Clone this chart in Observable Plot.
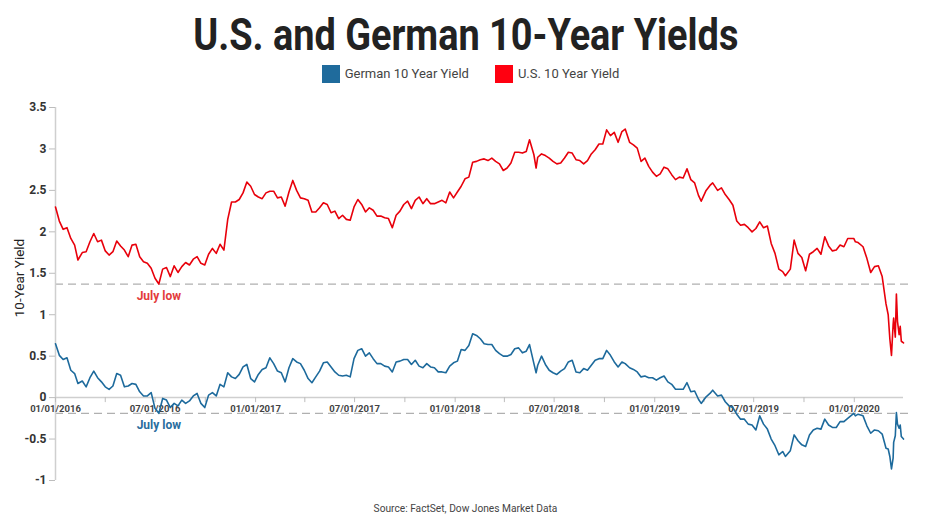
<!DOCTYPE html>
<html><head><meta charset="utf-8">
<script src="https://cdn.jsdelivr.net/npm/d3@7"></script>
<script src="https://cdn.jsdelivr.net/npm/@observablehq/plot@0.6"></script>
<style>
body{margin:0;background:#fff;font-family:Roboto, sans-serif;}
#wrap{position:relative;width:931px;height:523px;overflow:hidden;background:#fff;}
#title{position:absolute;left:0;top:12px;width:931px;text-align:center;font-size:45px;line-height:45px;font-weight:700;color:#222;white-space:nowrap;}
#title span{display:inline-block;transform-origin:center;}
#legend{position:absolute;top:65px;left:5px;width:931px;display:flex;justify-content:center;gap:26px;font-size:13px;color:#444;line-height:18px;}
.item{display:flex;align-items:center;}
.sw{width:18px;height:18px;margin-right:5px;}
#chart{position:absolute;top:95px;left:0;}
#source{position:absolute;top:503px;left:0;width:931px;text-align:center;font-size:10.2px;color:#444;}
</style></head>
<body>
<div id="wrap">
  <div id="title"><span id="titleText">U.S. and German 10-Year Yields</span></div>
  <div id="legend"></div>
  <div id="chart"></div>
  <div id="source">Source: FactSet, Dow Jones Market Data</div>
</div>
<script>
const seriesNames = ["German 10 Year Yield", "U.S. 10 Year Yield"];
const seriesColors = ["#1d6a9c", "#e8000b"];
const legendColors = ["#1f6b9c", "#ff0010"];

const dates = [
"2016-01-01","2016-01-08","2016-01-15","2016-01-22","2016-01-29","2016-02-05","2016-02-11","2016-02-19","2016-02-26","2016-03-04","2016-03-11","2016-03-18","2016-03-25","2016-04-01","2016-04-08","2016-04-15","2016-04-22","2016-04-29","2016-05-06","2016-05-13","2016-05-20","2016-05-27","2016-06-03","2016-06-10","2016-06-17","2016-06-24","2016-07-01","2016-07-08","2016-07-15","2016-07-22","2016-07-29","2016-08-05","2016-08-12","2016-08-19","2016-08-26","2016-09-02","2016-09-09","2016-09-16","2016-09-23","2016-09-30","2016-10-07","2016-10-14","2016-10-21","2016-10-28","2016-11-04","2016-11-11","2016-11-18","2016-11-25","2016-12-02","2016-12-09","2016-12-16","2016-12-23","2016-12-30",
"2017-01-06","2017-01-13","2017-01-20","2017-01-27","2017-02-03","2017-02-10","2017-02-17","2017-02-24","2017-03-03","2017-03-10","2017-03-17","2017-03-24","2017-03-31","2017-04-07","2017-04-14","2017-04-21","2017-04-28","2017-05-05","2017-05-12","2017-05-19","2017-05-26","2017-06-02","2017-06-09","2017-06-16","2017-06-23","2017-06-30","2017-07-07","2017-07-14","2017-07-21","2017-07-28","2017-08-04","2017-08-11","2017-08-18","2017-08-25","2017-09-01","2017-09-08","2017-09-15","2017-09-22","2017-09-29","2017-10-06","2017-10-13","2017-10-20","2017-10-27","2017-11-03","2017-11-10","2017-11-17","2017-11-24","2017-12-01","2017-12-08","2017-12-15","2017-12-22","2017-12-29",
"2018-01-05","2018-01-12","2018-01-19","2018-01-26","2018-02-02","2018-02-09","2018-02-16","2018-02-23","2018-03-02","2018-03-09","2018-03-16","2018-03-23","2018-03-30","2018-04-06","2018-04-13","2018-04-20","2018-04-27","2018-05-04","2018-05-11","2018-05-17","2018-05-25","2018-05-29","2018-06-01","2018-06-08","2018-06-15","2018-06-22","2018-06-29","2018-07-06","2018-07-13","2018-07-20","2018-07-27","2018-08-03","2018-08-10","2018-08-17","2018-08-24","2018-08-31","2018-09-07","2018-09-14","2018-09-21","2018-09-28","2018-10-05","2018-10-12","2018-10-19","2018-10-26","2018-11-02","2018-11-08","2018-11-16","2018-11-23","2018-11-30","2018-12-07","2018-12-14","2018-12-21","2018-12-28",
"2019-01-04","2019-01-11","2019-01-18","2019-01-25","2019-02-01","2019-02-08","2019-02-15","2019-02-22","2019-03-01","2019-03-08","2019-03-15","2019-03-22","2019-03-27","2019-04-05","2019-04-12","2019-04-17","2019-04-26","2019-05-03","2019-05-10","2019-05-17","2019-05-24","2019-05-31","2019-06-07","2019-06-14","2019-06-21","2019-06-28","2019-07-05","2019-07-12","2019-07-19","2019-07-26","2019-08-02","2019-08-09","2019-08-16","2019-08-23","2019-08-28","2019-09-06","2019-09-13","2019-09-20","2019-09-27","2019-10-04","2019-10-11","2019-10-18","2019-10-25","2019-11-01","2019-11-08","2019-11-15","2019-11-22","2019-11-29","2019-12-06","2019-12-13","2019-12-20","2019-12-31",
"2020-01-03","2020-01-08","2020-01-17","2020-01-24","2020-01-31","2020-02-07","2020-02-14","2020-02-21","2020-02-28","2020-03-03","2020-03-06","2020-03-09","2020-03-12","2020-03-13","2020-03-16","2020-03-18","2020-03-20","2020-03-23","2020-03-25","2020-03-27","2020-03-31"
];

const usYield = [
2.30,2.13,2.03,2.05,1.92,1.84,1.66,1.75,1.76,1.88,1.98,1.88,1.90,1.77,1.72,1.76,1.89,1.83,1.78,1.70,1.84,1.85,1.70,1.64,1.62,1.56,1.44,1.37,1.55,1.57,1.46,1.59,1.51,1.58,1.63,1.60,1.67,1.70,1.62,1.60,1.73,1.80,1.74,1.85,1.78,2.15,2.36,2.36,2.39,2.47,2.60,2.55,2.45,
2.42,2.40,2.47,2.49,2.49,2.41,2.42,2.31,2.48,2.62,2.50,2.41,2.40,2.38,2.24,2.24,2.29,2.35,2.33,2.23,2.25,2.16,2.20,2.15,2.14,2.30,2.39,2.33,2.24,2.29,2.26,2.19,2.19,2.17,2.16,2.05,2.20,2.25,2.33,2.37,2.28,2.38,2.42,2.34,2.40,2.34,2.34,2.36,2.38,2.35,2.48,2.41,
2.48,2.55,2.64,2.66,2.84,2.85,2.87,2.88,2.86,2.89,2.85,2.82,2.74,2.77,2.83,2.96,2.96,2.95,2.97,3.11,2.93,2.77,2.90,2.94,2.92,2.89,2.85,2.82,2.83,2.89,2.96,2.95,2.87,2.86,2.82,2.86,2.94,2.99,3.06,3.06,3.23,3.16,3.20,3.08,3.21,3.24,3.08,3.05,3.01,2.85,2.89,2.79,2.72,
2.67,2.70,2.78,2.76,2.69,2.63,2.66,2.65,2.76,2.63,2.59,2.44,2.37,2.50,2.56,2.59,2.50,2.53,2.45,2.39,2.32,2.13,2.08,2.09,2.05,2.00,2.04,2.12,2.05,2.07,1.86,1.74,1.55,1.52,1.47,1.55,1.90,1.74,1.69,1.53,1.73,1.76,1.80,1.73,1.94,1.83,1.77,1.78,1.84,1.82,1.92,1.92,
1.88,1.87,1.82,1.68,1.51,1.58,1.59,1.46,1.13,1.00,0.71,0.51,0.88,0.96,0.73,1.25,0.92,0.76,0.86,0.68,0.66
];

const deYield = [
0.65,0.51,0.46,0.48,0.33,0.29,0.17,0.20,0.13,0.24,0.32,0.24,0.19,0.13,0.10,0.14,0.29,0.27,0.13,0.14,0.17,0.16,0.07,0.02,0.02,0.06,-0.13,-0.19,-0.01,-0.03,-0.12,-0.07,-0.10,-0.03,-0.07,-0.04,0.02,0.05,-0.07,-0.12,0.03,0.06,0.02,0.16,0.13,0.30,0.25,0.23,0.28,0.37,0.40,0.23,0.19,
0.28,0.34,0.36,0.48,0.41,0.32,0.30,0.19,0.36,0.47,0.43,0.41,0.33,0.23,0.18,0.25,0.32,0.42,0.43,0.37,0.31,0.27,0.26,0.27,0.25,0.47,0.57,0.59,0.50,0.54,0.47,0.41,0.41,0.38,0.37,0.31,0.43,0.44,0.46,0.46,0.40,0.45,0.38,0.36,0.41,0.37,0.36,0.31,0.31,0.30,0.38,0.42,
0.44,0.58,0.57,0.63,0.77,0.75,0.71,0.65,0.64,0.64,0.57,0.53,0.50,0.50,0.52,0.59,0.60,0.54,0.56,0.64,0.41,0.30,0.39,0.50,0.40,0.33,0.30,0.28,0.32,0.35,0.43,0.45,0.31,0.30,0.35,0.33,0.39,0.45,0.47,0.47,0.57,0.51,0.43,0.37,0.43,0.41,0.36,0.34,0.31,0.25,0.26,0.24,0.24,
0.21,0.24,0.26,0.19,0.16,0.10,0.10,0.10,0.18,0.07,0.08,-0.02,-0.07,0.01,0.05,0.09,0.02,0.03,-0.05,-0.10,-0.12,-0.20,-0.26,-0.26,-0.32,-0.33,-0.39,-0.22,-0.32,-0.38,-0.50,-0.58,-0.69,-0.65,-0.71,-0.64,-0.45,-0.52,-0.57,-0.59,-0.45,-0.39,-0.37,-0.38,-0.26,-0.33,-0.36,-0.36,-0.29,-0.29,-0.25,-0.19,
-0.22,-0.20,-0.22,-0.34,-0.43,-0.39,-0.40,-0.44,-0.61,-0.62,-0.71,-0.86,-0.73,-0.54,-0.46,-0.18,-0.32,-0.37,-0.33,-0.47,-0.50
];

const tickDates = ["2016-01-01","2016-04-01","2016-07-01","2016-10-01","2017-01-01","2017-04-01","2017-07-01","2017-10-01","2018-01-01","2018-04-01","2018-07-01","2018-10-01","2019-01-01","2019-04-01","2019-07-01","2019-10-01","2020-01-01"];
const labelDates = ["2016-01-01","2016-07-01","2017-01-01","2017-07-01","2018-01-01","2018-07-01","2019-01-01","2019-07-01","2020-01-01"];
const yTicks = [-1,-0.5,0,0.5,1,1.5,2,2.5,3,3.5];
const julyLowSeries = ["U.S. 10 Year Yield", "German 10 Year Yield"];
const julyLowDates = ["2016-07-08", "2016-07-08"];
const julyLowValues = [1.37, -0.19];
const julyLowColors = ["#e33b3b", "#2a6d9e"];

const parse = d3.utcParse("%Y-%m-%d");
const fmt = d3.utcFormat("%m/%d/%Y");

const data = [];
dates.forEach((d, i) => {
  data.push({date: parse(d), series: seriesNames[0], value: deYield[i]});
  data.push({date: parse(d), series: seriesNames[1], value: usYield[i]});
});
const lows = julyLowSeries.map((s, i) => ({series: s, date: parse(julyLowDates[i]), value: julyLowValues[i], color: julyLowColors[i]}));

// legend
const legend = document.getElementById("legend");
seriesNames.forEach((n, i) => {
  const it = document.createElement("div"); it.className = "item";
  it.innerHTML = `<div class="sw" style="background:${legendColors[i]}"></div><span>${n}</span>`;
  legend.appendChild(it);
});

// title condense
const tt = document.getElementById("titleText");
const w = tt.getBoundingClientRect().width;
tt.style.transform = `scaleX(${545 / w})`;

const chart = Plot.plot({
  width: 931, height: 395,
  marginLeft: 55, marginRight: 28, marginTop: 12, marginBottom: 10,
  x: {type: "utc", domain: [parse("2016-01-01"), parse("2020-03-31")], axis: null},
  y: {domain: [-1, 3.5], axis: null},
  color: {domain: seriesNames, range: seriesColors},
  style: {fontFamily: "Roboto, sans-serif", background: "#fff"},
  marks: [
    Plot.ruleY(lows, {y: "value", stroke: "#b0b0b0", strokeWidth: 1.2, strokeDasharray: "8,5", insetRight: -10}),
    Plot.ruleX([parse("2016-01-01")], {stroke: "#cfcfcf", strokeWidth: 1.5}),
    Plot.ruleY([0], {stroke: "#cfcfcf", strokeWidth: 1.5}),
    Plot.ruleX(tickDates, {x: d => parse(d), y1: 0, y2: 0, insetBottom: -5, stroke: "#bdbdbd", strokeWidth: 1}),
    Plot.text(labelDates, {x: d => parse(d), y: 0, text: d => fmt(parse(d)), dy: 11, fontSize: 9.5, fontWeight: "bold", fill: "#444"}),
    Plot.axisY(yTicks, {tickFormat: d => String(d), tickSize: 6, tickPadding: 3, stroke: "#bdbdbd", fill: "#333", fontSize: 12, fontWeight: "bold", label: null}),
    Plot.line(data, {x: "date", y: "value", stroke: "series", strokeWidth: 1.6, curve: "linear"}),
    Plot.text(lows, {x: "date", y: "value", text: () => "July low", dy: 12, fill: "color", fontSize: 12, fontWeight: "bold"})
  ]
});
const svg = d3.select(chart);
svg.append("text")
  .attr("transform", "translate(24,183) rotate(-90)")
  .attr("text-anchor", "middle")
  .attr("font-size", 13.5)
  .attr("fill", "#222")
  .attr("font-family", "Roboto, sans-serif")
  .text("10-Year Yield");
document.getElementById("chart").appendChild(chart);
</script>
</body></html>
